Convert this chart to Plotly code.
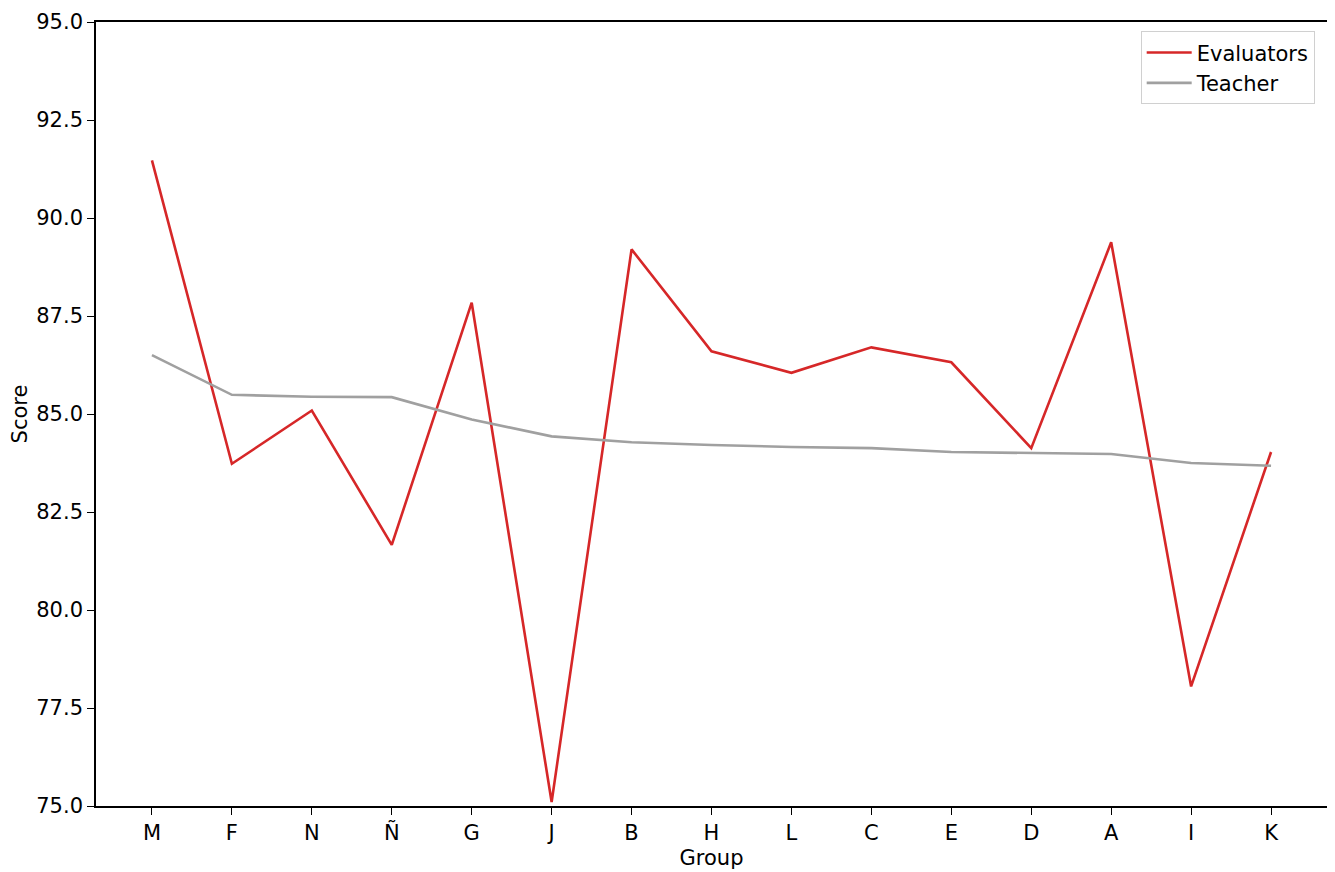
import plotly.graph_objects as go

# groups in plotted order
groups = ["M", "F", "N", "Ñ", "G", "J", "B", "H", "L", "C", "E", "D", "A", "I", "K"]

# mean scores per group
evaluators = [91.47, 83.73, 85.09, 81.66, 87.84, 75.10, 89.20, 86.60, 86.05,
              86.70, 86.32, 84.13, 89.38, 78.05, 84.03]
teacher = [86.50, 85.49, 85.44, 85.43, 84.86, 84.43, 84.28, 84.21, 84.16,
           84.13, 84.03, 84.00, 83.98, 83.75, 83.68]

y_ticks = [75.0, 77.5, 80.0, 82.5, 85.0, 87.5, 90.0, 92.5, 95.0]

FS = 21

fig = go.Figure()
fig.add_trace(go.Scatter(
    x=list(range(len(groups))), y=evaluators, mode="lines", name="Evaluators",
    line=dict(color="#d62728", width=2.6),
))
fig.add_trace(go.Scatter(
    x=list(range(len(groups))), y=teacher, mode="lines", name="Teacher",
    line=dict(color="#a0a0a0", width=2.6),
))

axis_common = dict(
    showline=True, linecolor="black", linewidth=1.6, mirror=True,
    ticks="outside", ticklen=7, tickwidth=1.4, tickcolor="black",
    showgrid=False, zeroline=False, automargin=False,
    ticklabeloverflow="allow",
    tickfont=dict(size=FS, color="black"),
)

fig.update_xaxes(
    range=[-0.7, len(groups) - 1 + 0.7],
    tickmode="array", tickvals=list(range(len(groups))), ticktext=groups,
    title=dict(text="Group", font=dict(size=FS, color="black"), standoff=6),
    **axis_common,
)
fig.update_yaxes(
    range=[75, 95],
    tickmode="array", tickvals=y_ticks, ticktext=[f"{v:.1f}" for v in y_ticks],
    title=dict(text="Score", font=dict(size=FS, color="black"), standoff=12),
    **axis_common,
)

fig.update_layout(
    width=1335, height=872,
    margin=dict(l=88, r=16, t=14, b=74),
    plot_bgcolor="white", paper_bgcolor="white",
    font=dict(family="DejaVu Sans", size=FS, color="black"),
    legend=dict(
        x=0.99, y=0.988, xanchor="right", yanchor="top",
        bordercolor="#d0d0d0", borderwidth=1, bgcolor="white",
        font=dict(size=FS), tracegroupgap=2, itemwidth=45,
    ),
)

fig.write_html("out.html")
